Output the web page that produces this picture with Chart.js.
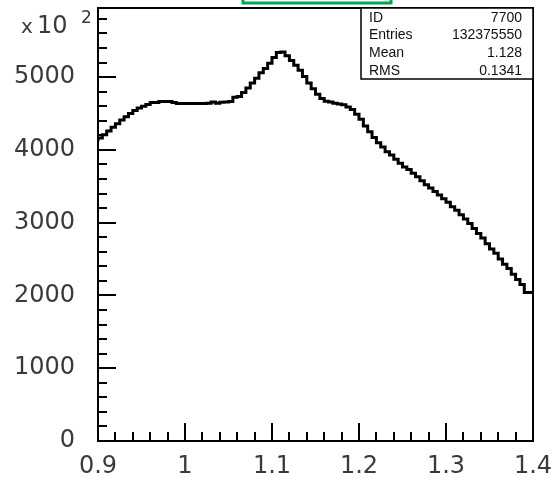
<!DOCTYPE html>
<html>
<head>
<meta charset="utf-8">
<script src="https://cdn.jsdelivr.net/npm/chart.js@4/dist/chart.umd.min.js"></script>
<style>
  html, body { margin: 0; padding: 0; background: #ffffff; }
  #wrap { width: 554px; height: 477px; position: relative; }
</style>
</head>
<body>
<div id="wrap"><canvas id="hist" width="554" height="477"></canvas></div>
<script>
// Histogram 7700: 100 equal bins between xMin and xMax, contents in units of 10^2
const xMin = 0.9;
const xMax = 1.4;
const counts = [
  4120, 4165, 4210, 4260, 4310, 4360, 4410, 4455, 4500, 4540,
  4575, 4600, 4625, 4650, 4650, 4665, 4665, 4665, 4650, 4638,
  4638, 4638, 4638, 4638, 4638, 4638, 4640, 4658, 4640, 4655,
  4660, 4665, 4725, 4735, 4790, 4850, 4920, 4985, 5060, 5120,
  5190, 5270, 5340, 5345, 5295, 5230, 5165, 5095, 5010, 4920,
  4840, 4765, 4705, 4670, 4660, 4640, 4630, 4620, 4590, 4555,
  4490, 4420, 4330, 4250, 4170, 4100, 4040, 3975, 3930, 3870,
  3815, 3765, 3730, 3680, 3630, 3575, 3520, 3475, 3430, 3380,
  3330, 3280, 3220, 3170, 3110, 3050, 2990, 2920, 2850, 2790,
  2710, 2640, 2580, 2500, 2430, 2370, 2290, 2220, 2150, 2040
];
const yMax = 5950;
const xTickValues = [0.9, 1.0, 1.1, 1.2, 1.3, 1.4];
const yTickValues = [0, 1000, 2000, 3000, 4000, 5000];
const yMinorStep = 200;
const xMinorStep = 0.02;

// Statistics box rows
const statLabels = ['ID', 'Entries', 'Mean', 'RMS'];
const statValues = ['7700', '132375550', '1.128', '0.1341'];

const AXIS_FONT = '"DejaVu Sans", Verdana, sans-serif';
const BOX_FONT = '"Liberation Sans", Arial, Helvetica, sans-serif';
const TEXT = '#3a3a3a';

// step outline: one point at each low bin edge, plus the upper edge of the last bin
const binWidth = (xMax - xMin) / counts.length;
const points = counts.map((c, i) => ({ x: xMin + i * binWidth, y: c }));
points.push({ x: xMax, y: counts[counts.length - 1] });

function isMultiple(v, step) {
  const r = v / step;
  return Math.abs(r - Math.round(r)) < 1e-6;
}

// frame, inner tick marks, exponent label, stats box and title box
const decorations = {
  id: 'decorations',
  afterDraw(chart) {
    const ctx = chart.ctx;
    const a = chart.chartArea;
    const xs = chart.scales.x;
    const ys = chart.scales.y;
    ctx.save();
    ctx.strokeStyle = '#000';
    ctx.lineWidth = 2;
    ctx.lineCap = 'butt';

    // y ticks: long at labelled values, short in between
    const yMajor = yTickValues[1] - yTickValues[0];
    for (let k = 0; k * yMinorStep <= yMax; k++) {
      const v = k * yMinorStep;
      const y = Math.round(ys.getPixelForValue(v));
      const len = isMultiple(v, yMajor) ? 18 : 9;
      ctx.beginPath();
      ctx.moveTo(a.left, y);
      ctx.lineTo(a.left + len, y);
      ctx.stroke();
    }
    // x ticks
    const xMajor = xTickValues[1] - xTickValues[0];
    const perMajor = Math.round(xMajor / xMinorStep);
    const nMinor = Math.round((xMax - xMin) / xMinorStep);
    for (let k = 0; k <= nMinor; k++) {
      const v = xMin + k * xMinorStep;
      const x = Math.round(xs.getPixelForValue(v));
      const len = k % perMajor === 0 ? 18 : 9;
      ctx.beginPath();
      ctx.moveTo(x, a.bottom);
      ctx.lineTo(x, a.bottom - len);
      ctx.stroke();
    }

    // frame
    ctx.strokeRect(a.left, a.top, a.right - a.left, a.bottom - a.top);

    // exponent of the y axis
    ctx.fillStyle = TEXT;
    ctx.textBaseline = 'alphabetic';
    ctx.textAlign = 'left';
    ctx.font = '20px ' + AXIS_FONT;
    ctx.fillText('x', 21, 33);
    ctx.font = '24px ' + AXIS_FONT;
    ctx.fillText('10', 37, 33);
    ctx.font = '17px ' + AXIS_FONT;
    ctx.fillText('2', 81, 23);

    // statistics box
    const bx = 361, by = a.top, bw = a.right - 361, bh = 71;
    ctx.fillStyle = '#fff';
    ctx.fillRect(bx, by, bw, bh);
    ctx.lineWidth = 1.5;
    ctx.strokeStyle = '#000';
    ctx.strokeRect(bx, by, bw, bh);
    ctx.fillStyle = '#111';
    ctx.font = '14px ' + BOX_FONT;
    ctx.textBaseline = 'middle';
    const rowH = bh / statLabels.length;
    statLabels.forEach((lab, i) => {
      const y = by + rowH * (i + 0.5) + 1;
      ctx.textAlign = 'left';
      ctx.fillText(lab, bx + 8, y);
      ctx.textAlign = 'right';
      ctx.fillText(statValues[i], a.right - 11, y);
    });

    // title box, mostly above the page edge
    ctx.strokeStyle = '#00a651';
    ctx.lineWidth = 3;
    ctx.strokeRect(243, -20, 148, 23);
    ctx.restore();
  }
};

new Chart(document.getElementById('hist'), {
  type: 'line',
  data: {
    datasets: [{
      data: points,
      stepped: 'after',
      borderColor: '#000',
      borderWidth: 3,
      pointRadius: 0,
      fill: false,
      tension: 0
    }]
  },
  options: {
    responsive: false,
    animation: false,
    events: [],
    layout: { padding: { top: 8, right: 21, left: 0, bottom: 0 } },
    plugins: {
      legend: { display: false },
      tooltip: { enabled: false },
      title: { display: false }
    },
    scales: {
      x: {
        type: 'linear',
        min: xMin,
        max: xMax,
        grid: { display: false, drawTicks: false },
        border: { display: false },
        afterBuildTicks(s) { s.ticks = xTickValues.map(v => ({ value: v })); },
        ticks: {
          autoSkip: false,
          maxRotation: 0,
          padding: 11,
          color: TEXT,
          font: { family: AXIS_FONT, size: 24 },
          callback: v => String(Number(Number(v).toFixed(2)))
        },
        afterFit(s) { s.height = 36; s.paddingLeft = 0; s.paddingRight = 0; }
      },
      y: {
        type: 'linear',
        min: 0,
        max: yMax,
        grid: { display: false, drawTicks: false },
        border: { display: false },
        afterBuildTicks(s) { s.ticks = yTickValues.map(v => ({ value: v })); },
        ticks: {
          autoSkip: false,
          padding: 23,
          color: TEXT,
          font: { family: AXIS_FONT, size: 24 },
          callback: v => String(Math.round(v))
        },
        afterFit(s) { s.width = 98; s.paddingTop = 0; s.paddingBottom = 0; }
      }
    }
  },
  plugins: [decorations]
});
</script>
</body>
</html>
